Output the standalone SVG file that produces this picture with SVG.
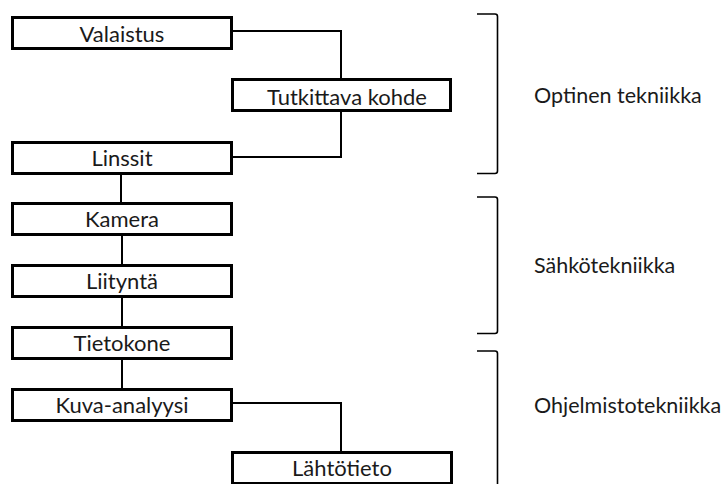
<svg xmlns="http://www.w3.org/2000/svg" width="726" height="484" viewBox="0 0 726 484">
<style>
  .box { fill: #ffffff; stroke: #000000; stroke-width: 3; }
  .lbl { font-family: Lato, "Open Sans", "Liberation Sans", sans-serif; font-size: 22px; fill: #1a1a1a; text-anchor: middle; }
  .side { font-family: Lato, "Open Sans", "Liberation Sans", sans-serif; font-size: 21.5px; fill: #1a1a1a; }
  .conn { fill: none; stroke: #000000; stroke-width: 2; }
  .brace { fill: none; stroke: #000000; stroke-width: 1.6; }
</style>
<rect width="726" height="484" fill="#ffffff"/>
<g id="connectors">
  <path class="conn" d="M232,31 H341 V80"/>
  <path class="conn" d="M341,110 V157 H232"/>
  <path class="conn" d="M121,173 V203"/>
  <path class="conn" d="M122,234 V265"/>
  <path class="conn" d="M122,296 V327"/>
  <path class="conn" d="M122,358 V389"/>
  <path class="conn" d="M232,403 H341 V452"/>
</g>
<g id="valaistus"><rect class="box" x="12.5" y="17.5" width="219" height="31"/><text class="lbl" x="122" y="41.5">Valaistus</text></g>
<g id="tutkittava"><rect class="box" x="232.5" y="79.5" width="218" height="31"/><text class="lbl" x="347" y="104.5">Tutkittava kohde</text></g>
<g id="linssit"><rect class="box" x="12.5" y="142.5" width="219" height="31"/><text class="lbl" x="122" y="166">Linssit</text></g>
<g id="kamera"><rect class="box" x="12.5" y="203.5" width="219" height="31"/><text class="lbl" x="122" y="226.5">Kamera</text></g>
<g id="liitynta"><rect class="box" x="12.5" y="265.5" width="219" height="31"/><text class="lbl" x="122" y="289">Liityntä</text></g>
<g id="tietokone"><rect class="box" x="12.5" y="327.5" width="219" height="31"/><text class="lbl" x="122" y="350.5">Tietokone</text></g>
<g id="kuva-analyysi"><rect class="box" x="12.5" y="389.5" width="219" height="31"/><text class="lbl" x="122" y="412.5">Kuva-analyysi</text></g>
<g id="lahtotieto"><rect class="box" x="232.5" y="452.5" width="219" height="31"/><text class="lbl" x="342" y="475.5">Lähtötieto</text></g>
<g id="optinen">
  <path class="brace" d="M477,14 H495 Q497.5,14 497.5,16.5 V171 Q497.5,173.5 495,173.5 H477"/>
  <text class="side" x="534" y="103">Optinen tekniikka</text>
</g>
<g id="sahko">
  <path class="brace" d="M477,197 H495 Q497.5,197 497.5,199.5 V331 Q497.5,333.5 495,333.5 H477"/>
  <text class="side" x="534" y="273">Sähkötekniikka</text>
</g>
<g id="ohjelmisto">
  <path class="brace" d="M477,351 H495 Q497.5,351 497.5,353.5 V484"/>
  <text class="side" x="534" y="413">Ohjelmistotekniikka</text>
</g>
</svg>
